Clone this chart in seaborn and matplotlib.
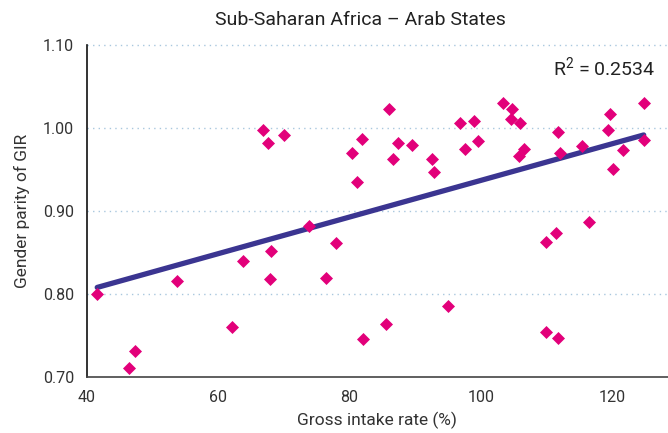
import numpy as np
import pandas as pd
import matplotlib
matplotlib.use("Agg")
import matplotlib.pyplot as plt
import seaborn as sns

gross_intake_rate = [41.6, 46.5, 47.3, 53.7, 62.1, 63.8, 66.8, 67.65, 67.9, 68.1,
                     70.1, 73.85, 76.5, 77.95, 80.35, 81.1, 81.95, 82.0, 85.5, 86.0,
                     86.6, 87.4, 89.6, 92.5, 92.8, 95.0, 96.85, 97.6, 99.0, 99.6,
                     103.4, 104.8, 104.6, 105.9, 105.8, 106.6, 109.9, 109.9, 111.5, 111.8,
                     111.8, 112.1, 115.4, 116.4, 119.4, 119.7, 120.2, 121.6, 124.8, 124.8]
gender_parity = [0.800, 0.710, 0.731, 0.816, 0.760, 0.839, 0.998, 0.982, 0.818, 0.851,
                 0.992, 0.882, 0.819, 0.861, 0.970, 0.935, 0.987, 0.745, 0.764, 1.0225,
                 0.962, 0.982, 0.979, 0.962, 0.947, 0.785, 1.006, 0.975, 1.008, 0.984,
                 1.030, 1.023, 1.0105, 1.006, 0.966, 0.974, 0.863, 0.754, 0.873, 0.747,
                 0.9955, 0.970, 0.978, 0.887, 0.998, 1.0165, 0.951, 0.973, 1.030, 0.985]
x_ticks = [40, 60, 80, 100, 120]
y_ticks = [0.70, 0.80, 0.90, 1.00, 1.10]
title = "Sub-Saharan Africa – Arab States"
r2_label = "R$^2$ = 0.2534"

df = pd.DataFrame({"gir": gross_intake_rate, "gpi": gender_parity})

sns.set_theme(style="white")
plt.rcParams["font.family"] = ["Roboto", "DejaVu Sans"]
plt.rcParams["mathtext.fontset"] = "custom"
plt.rcParams["mathtext.rm"] = "Roboto"

fig = plt.figure(figsize=(6.68, 4.33), dpi=100)
ax = fig.add_axes([86.7 / 668, 1 - 376.7 / 433, 1 - 86.7 / 668, (376.7 - 45) / 433])

sns.regplot(data=df, x="gir", y="gpi", ax=ax, ci=None, truncate=True, marker="D",
            scatter_kws=dict(s=44, color="#e2007a", linewidths=0, alpha=1, zorder=3),
            line_kws=dict(color="#3b3591", lw=3.8, zorder=2, solid_capstyle="round"))

ax.set_xlim(40, 128.5)
ax.set_ylim(0.70, 1.10)
ax.set_xticks(x_ticks)
ax.set_yticks(y_ticks)
ax.set_xticklabels([str(t) for t in x_ticks])
ax.set_yticklabels([f"{t:.2f}" for t in y_ticks])
ax.tick_params(axis="x", length=5, width=1, color="#333333", direction="inout",
               labelsize=11.5, labelcolor="#333333", pad=7)
ax.tick_params(axis="y", length=0, labelsize=11.5, labelcolor="#333333", pad=9)

for yv in y_ticks[1:]:
    ax.axhline(yv, color="#a9c7de", lw=1.0, ls=(0, (1, 3)), zorder=0, clip_on=False)

for s in ["top", "right"]:
    ax.spines[s].set_visible(False)
ax.spines["left"].set_color("#111111")
ax.spines["left"].set_linewidth(1.2)
ax.spines["bottom"].set_color("#444444")
ax.spines["bottom"].set_linewidth(1.2)

ax.set_xlabel("Gross intake rate (%)", fontsize=12.5, color="#333333", labelpad=5)
ax.set_ylabel("Gender parity of GIR", fontsize=12.5, color="#333333", labelpad=9)
fig.text(360 / 668, 1 - 20 / 433, title, ha="center", va="center", fontsize=14, color="#222222")
ax.text(655 / 668, 1 - 68 / 433, r2_label, transform=fig.transFigure, ha="right",
        va="center", fontsize=14, color="#222222")

fig.savefig("out.png", dpi=100)
